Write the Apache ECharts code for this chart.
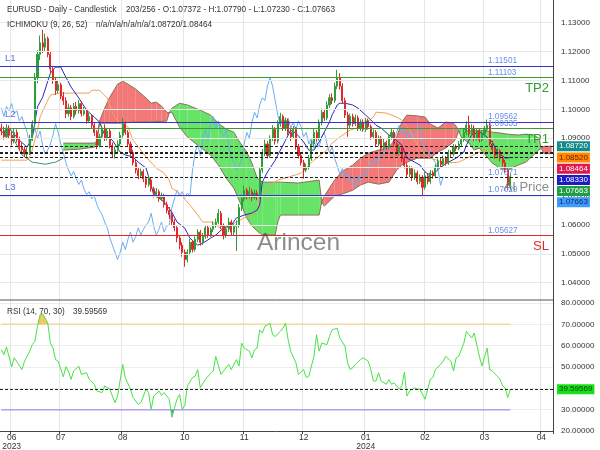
<!DOCTYPE html>
<html><head><meta charset="utf-8">
<script src="https://cdn.jsdelivr.net/npm/echarts@6/dist/echarts.min.js"></script>
<style>html,body{margin:0;padding:0;background:#fff}#c{width:600px;height:450px}</style>
</head><body><div id="c"></div>
<script>
// ---------- data ----------
const opens = [1.0935,1.0925,1.0905,1.0935,1.0910,1.0890,1.0920,1.0895,1.0870,1.0860,
1.0845,1.0850,1.0900,1.0950,1.1110,1.1190,1.1230,1.1215,1.1245,1.1190,
1.1140,1.1100,1.1065,1.1085,1.1045,1.1030,1.0985,1.1005,1.0975,1.1010,
1.0995,1.1020,1.0985,1.0995,1.0960,1.0975,1.0945,1.0920,1.0875,1.0905,
1.0935,1.0900,1.0925,1.0875,1.0845,1.0860,1.0880,1.0910,1.0950,1.0920,
1.0880,1.0850,1.0815,1.0790,1.0770,1.0785,1.0760,1.0740,1.0755,1.0725,
1.0705,1.0715,1.0690,1.0700,1.0670,1.0650,1.0635,1.0610,1.0590,1.0555,
1.0530,1.0505,1.0480,1.0505,1.0540,1.0515,1.0550,1.0575,1.0540,1.0560,
1.0590,1.0565,1.0585,1.0600,1.0610,1.0640,1.0595,1.0565,1.0585,1.0610,
1.0575,1.0595,1.0600,1.0660,1.0690,1.0720,1.0700,1.0715,1.0695,1.0710,
1.0700,1.0790,1.0850,1.0880,1.0840,1.0900,1.0930,1.0890,1.0950,1.0975,
1.0935,1.0960,1.0920,1.0905,1.0930,1.0870,1.0840,1.0815,1.0790,1.0800,
1.0830,1.0880,1.0920,1.0900,1.0955,1.0990,1.0970,1.1015,1.1040,1.1030,
1.1080,1.1110,1.1080,1.1030,1.0980,1.0945,1.0975,1.0950,1.0970,1.0935,
1.0955,1.0930,1.0960,1.0940,1.0905,1.0920,1.0880,1.0900,1.0865,1.0885,
1.0870,1.0905,1.0920,1.0880,1.0850,1.0870,1.0830,1.0805,1.0775,1.0795,
1.0765,1.0780,1.0750,1.0765,1.0730,1.0770,1.0750,1.0780,1.0770,1.0800,
1.0820,1.0810,1.0830,1.0815,1.0850,1.0845,1.0870,1.0865,1.0880,1.0895,
1.0920,1.0945,1.0915,1.0935,1.0900,1.0925,1.0895,1.0915,1.0930,1.0945,
1.0880,1.0860,1.0840,1.0855,1.0830,1.0815,1.0790,1.07372];
const closes = [1.0925,1.0905,1.0935,1.0910,1.0890,1.0920,1.0895,1.0870,1.0860,1.0845,
1.0850,1.0900,1.0950,1.1110,1.1190,1.1230,1.1215,1.1245,1.1190,1.1140,
1.1100,1.1065,1.1085,1.1045,1.1030,1.0985,1.1005,1.0975,1.1010,1.0995,
1.1020,1.0985,1.0995,1.0960,1.0975,1.0945,1.0920,1.0875,1.0905,1.0935,
1.0900,1.0925,1.0875,1.0845,1.0860,1.0880,1.0910,1.0950,1.0920,1.0880,
1.0850,1.0815,1.0790,1.0770,1.0785,1.0760,1.0740,1.0755,1.0725,1.0705,
1.0715,1.0690,1.0700,1.0670,1.0650,1.0635,1.0610,1.0590,1.0555,1.0530,
1.0505,1.0480,1.0505,1.0540,1.0515,1.0550,1.0575,1.0540,1.0560,1.0590,
1.0565,1.0585,1.0600,1.0610,1.0640,1.0595,1.0565,1.0585,1.0610,1.0575,
1.0595,1.0600,1.0660,1.0690,1.0720,1.0700,1.0715,1.0695,1.0710,1.0700,
1.0790,1.0850,1.0880,1.0840,1.0900,1.0930,1.0890,1.0950,1.0975,1.0935,
1.0960,1.0920,1.0905,1.0930,1.0870,1.0840,1.0815,1.0790,1.0800,1.0830,
1.0880,1.0920,1.0900,1.0955,1.0990,1.0970,1.1015,1.1040,1.1030,1.1080,
1.1110,1.1080,1.1030,1.0980,1.0945,1.0975,1.0950,1.0970,1.0935,1.0955,
1.0930,1.0960,1.0940,1.0905,1.0920,1.0880,1.0900,1.0865,1.0885,1.0870,
1.0905,1.0920,1.0880,1.0850,1.0870,1.0830,1.0805,1.0775,1.0795,1.0765,
1.0780,1.0750,1.0765,1.0730,1.0770,1.0750,1.0780,1.0770,1.0800,1.0820,
1.0810,1.0830,1.0815,1.0850,1.0845,1.0870,1.0865,1.0880,1.0895,1.0920,
1.0945,1.0915,1.0935,1.0900,1.0925,1.0895,1.0915,1.0930,1.0945,1.0880,
1.0860,1.0840,1.0855,1.0830,1.0815,1.0790,1.0737,1.07663];
const lows = [1.0910,1.0895,1.0898,1.0900,1.0875,1.0882,1.0885,1.0858,1.0848,1.0835,
1.0832,1.0842,1.0890,1.0940,1.1090,1.1170,1.1195,1.1200,1.1180,1.1125,
1.1088,1.1050,1.1055,1.1035,1.1015,1.0970,1.0975,1.0962,1.0968,1.0982,
1.0985,1.0975,1.0978,1.0950,1.0952,1.0935,1.0908,1.0862,1.0868,1.0898,
1.0890,1.0892,1.0865,1.0835,1.0830,1.0850,1.0872,1.0902,1.0912,1.0872,
1.0840,1.0805,1.0778,1.0758,1.0762,1.0748,1.0728,1.0732,1.0715,1.0695,
1.0695,1.0680,1.0682,1.0660,1.0640,1.0620,1.0600,1.0578,1.0540,1.0515,
1.0490,1.0455,1.0470,1.0495,1.0505,1.0508,1.0540,1.0528,1.0530,1.0552,
1.0555,1.0558,1.0575,1.0590,1.0602,1.0585,1.0550,1.0555,1.0575,1.0562,
1.0562,1.0510,1.0590,1.0648,1.0680,1.0688,1.0690,1.0682,1.0688,1.0685,
1.0692,1.0780,1.0838,1.0830,1.0832,1.0890,1.0878,1.0882,1.0940,1.0925,
1.0925,1.0910,1.0890,1.0898,1.0860,1.0830,1.0805,1.0760,1.0782,1.0792,
1.0822,1.0870,1.0888,1.0892,1.0945,1.0960,1.0962,1.1005,1.1018,1.1022,
1.1070,1.1068,1.1020,1.0970,1.0905,1.0935,1.0940,1.0942,1.0925,1.0925,
1.0922,1.0922,1.0930,1.0895,1.0898,1.0870,1.0872,1.0855,1.0858,1.0860,
1.0862,1.0895,1.0870,1.0840,1.0840,1.0818,1.0795,1.0762,1.0765,1.0752,
1.0755,1.0740,1.0742,1.0695,1.0722,1.0740,1.0742,1.0760,1.0762,1.0795,
1.0800,1.0802,1.0805,1.0808,1.0835,1.0838,1.0855,1.0858,1.0872,1.0888,
1.0910,1.0905,1.0908,1.0890,1.0892,1.0885,1.0888,1.0905,1.0922,1.0872,
1.0850,1.0828,1.0832,1.0820,1.0802,1.0780,1.0720,1.07230];
const highs = [1.0950,1.0940,1.0948,1.0945,1.0922,1.0935,1.0930,1.0905,1.0885,1.0872,
1.0868,1.0912,1.0962,1.1125,1.1205,1.1255,1.1275,1.1262,1.1252,1.1200,
1.1150,1.1112,1.1098,1.1092,1.1060,1.1042,1.1020,1.1015,1.1022,1.1025,
1.1032,1.1028,1.1008,1.1002,1.0988,1.0982,1.0955,1.0928,1.0915,1.0945,
1.0948,1.0935,1.0932,1.0885,1.0872,1.0892,1.0922,1.0970,1.0958,1.0928,
1.0888,1.0860,1.0825,1.0800,1.0795,1.0792,1.0770,1.0768,1.0762,1.0732,
1.0728,1.0722,1.0712,1.0708,1.0680,1.0662,1.0645,1.0620,1.0598,1.0565,
1.0540,1.0515,1.0515,1.0552,1.0548,1.0560,1.0585,1.0582,1.0572,1.0600,
1.0598,1.0592,1.0612,1.0622,1.0655,1.0648,1.0605,1.0595,1.0625,1.0618,
1.0605,1.0615,1.0672,1.0705,1.0735,1.0728,1.0732,1.0725,1.0722,1.0720,
1.0800,1.0862,1.0895,1.0890,1.0910,1.0945,1.0938,1.0962,1.0988,1.0982,
1.0972,1.0968,1.0932,1.0942,1.0938,1.0880,1.0852,1.0825,1.0812,1.0842,
1.0892,1.0932,1.0928,1.0965,1.1002,1.1000,1.1028,1.1052,1.1055,1.1092,
1.1137,1.1125,1.1090,1.1040,1.0992,1.0985,1.0985,1.0982,1.0978,1.0965,
1.0965,1.0970,1.0968,1.0948,1.0930,1.0928,1.0910,1.0908,1.0898,1.0892,
1.0915,1.0935,1.0928,1.0888,1.0880,1.0878,1.0840,1.0815,1.0805,1.0802,
1.0792,1.0788,1.0775,1.0772,1.0782,1.0778,1.0790,1.0788,1.0810,1.0830,
1.0832,1.0840,1.0838,1.0860,1.0858,1.0880,1.0878,1.0890,1.0905,1.0932,
1.0958,1.0978,1.0948,1.0945,1.0935,1.0932,1.0925,1.0942,1.0965,1.0952,
1.0892,1.0870,1.0865,1.0862,1.0840,1.0825,1.0800,1.07790];

// Ichimoku lines: [slot, value]
const tenkanSlots = [0,3,7,10,12,14,16,19,21,23,25,27,30,33,36,38,40,43,46,48,51,53,56,58,59,61,63,66,68,71,73,76,78,81,83,86,89,91,94,97,99,100,101,103,106,110,112,114,117,119,121,123,125,127,128,130,131,133,136,138,141,143,145,147,150,152,155,157,160,162,164,166,168,170,173,176,179,180,182,185,187,190,192,195,197];
const tenkanVals = [1.0918,1.0935,1.0893,1.0869,1.0904,1.1008,1.1042,1.1125,1.1146,1.1146,1.1111,1.1077,1.1039,1.0997,1.0973,1.0956,1.0911,1.0893,1.0852,1.0842,1.0835,1.0817,1.0797,1.0738,1.0703,1.0693,1.0679,1.0644,1.0610,1.0589,1.0554,1.0530,1.0537,1.0554,1.0565,1.0589,1.0599,1.0624,1.0634,1.0641,1.0651,1.0669,1.0748,1.0783,1.0824,1.0893,1.0928,1.0918,1.0887,1.0859,1.0859,1.0887,1.0921,1.0956,1.0980,1.1015,1.1021,1.1021,1.1015,1.1004,1.0980,1.0963,1.0945,1.0935,1.0911,1.0900,1.0876,1.0831,1.0817,1.0807,1.0783,1.0772,1.0783,1.0800,1.0817,1.0831,1.0852,1.0876,1.0911,1.0921,1.0911,1.0887,1.0852,1.0831,1.0833];
const kijunSlots = [0,10,11,12,14,15,18,19,22,34,35,38,41,43,44,46,49,51,54,56,60,63,65,66,69,73,76,78,82,83,86,89,91,94,97,99,100,102,104,107,111,116,121,126,128,131,135,139,144,145,149,153,155,158,161,164,166,172,177,181,185,189,193,197];
const kijunVals = [1.0824,1.0824,1.0835,1.0859,1.0928,1.0973,1.1032,1.1049,1.1056,1.1056,1.1066,1.1066,1.1039,1.0990,1.0970,1.0952,1.0939,1.0893,1.0859,1.0835,1.0797,1.0779,1.0755,1.0727,1.0710,1.0669,1.0634,1.0610,1.0610,1.0599,1.0582,1.0599,1.0610,1.0624,1.0634,1.0651,1.0693,1.0710,1.0738,1.0755,1.0765,1.0779,1.0824,1.0859,1.0883,1.0904,1.0928,1.0939,1.0973,1.0990,1.0987,1.0973,1.0963,1.0928,1.0876,1.0842,1.0831,1.0814,1.0817,1.0835,1.0852,1.0859,1.0852,1.0852];
const leadSlots = [5,8,12,17,21,24];
const leadVals = [1.0893,1.0842,1.0817,1.0810,1.0817,1.0831];
const cloudSlots = [24,30,36,37,38,40,42,45,47,49,52,56,58,60,62,64,65,66,69,72,77,81,84,87,90,92,95,97,99,101,106,107,108,115,123,124,125,129,132,136,139,142,146,150,153,155,157,161,164,166,169,172,175,176,177,178,181,183,185,188,190,193,196,200,203,206,208,209,210,213];
const spanA = [1.0883,1.0883,1.0883,1.0890,1.0952,1.0952,1.0952,1.0952,1.0952,1.0954,1.0956,1.0956,1.0956,1.0958,1.0958,1.0959,1.0988,1.1004,1.1021,1.1015,1.0997,1.0980,1.0952,1.0931,1.0921,1.0890,1.0852,1.0814,1.0762,1.0748,1.0748,1.0748,1.0748,1.0745,1.0755,1.0680,1.0665,1.0700,1.0707,1.0720,1.0738,1.0748,1.0741,1.0748,1.0790,1.0807,1.0817,1.0831,1.0831,1.0831,1.0852,1.0866,1.0887,1.0900,1.0925,1.0935,1.0925,1.0925,1.0928,1.0925,1.0921,1.0918,1.0914,1.0911,1.0914,1.0911,1.0900,1.0865,1.08464,1.08464];
const spanB = [1.0859,1.0862,1.0869,1.0890,1.0959,1.1004,1.1042,1.1087,1.1097,1.1087,1.1070,1.1039,1.1021,1.1025,1.1011,1.0990,1.0988,1.0990,1.0938,1.0904,1.0869,1.0842,1.0807,1.0762,1.0727,1.0686,1.0624,1.0596,1.0579,1.0565,1.0565,1.0610,1.0634,1.0634,1.0634,1.0680,1.0700,1.0755,1.0786,1.0807,1.0831,1.0848,1.0859,1.0869,1.0904,1.0956,1.0980,1.0977,1.0973,1.0949,1.0935,1.0956,1.0952,1.0942,1.0925,1.0904,1.0883,1.0859,1.0866,1.0835,1.0814,1.0797,1.0790,1.0807,1.0817,1.0842,1.0859,1.0865,1.0872,1.0872];
const chikouShift = 26;

// RSI
const rsiSlots = [0,1,2,4,5,8,9,11,12,13,14,15,16,17,18,19,20,21,22,24,25,26,27,28,30,31,33,34,36,37,39,40,42,43,44,45,47,48,50,51,53,54,56,57,58,59,61,62,63,65,66,68,69,70,71,72,74,75,76,77,79,80,82,83,85,86,88,89,91,92,93,94,96,97,98,99,100,101,102,104,105,106,108,109,110,111,112,114,115,117,118,119,121,122,123,124,126,127,128,130,131,133,134,135,136,137,139,140,142,143,144,145,146,147,149,150,151,152,154,155,156,157,158,160,161,162,164,165,166,167,168,170,171,172,174,175,176,177,179,180,181,182,183,185,186,188,189,190,192,193,194,195,196,197];
const rsiVals = [58.1,55.8,59.4,50.1,54.3,48.8,52.7,57.4,60.5,62.0,69.0,74.4,74.9,72.9,70.5,61.2,58.9,53.5,52.7,45.4,50.1,48.1,44.2,48.1,50.4,46.5,47.3,44.2,41.9,38.8,38.0,41.1,39.6,36.4,33.3,36.4,51.2,44.9,39.6,35.7,32.5,33.3,39.6,38.0,30.2,36.4,38.8,36.7,38.0,34.9,26.4,34.9,37.2,30.2,31.8,41.1,45.0,45.7,48.8,40.3,44.2,45.7,48.1,55.0,46.5,48.1,51.2,48.8,53.5,50.4,61.2,58.9,57.4,54.3,58.1,58.9,67.4,65.9,69.0,70.5,65.1,64.3,66.7,68.2,70.5,62.8,57.4,52.0,46.5,48.8,45.0,45.7,55.0,65.1,57.4,61.2,60.5,64.3,67.4,68.2,63.6,59.7,52.0,48.8,49.6,51.2,53.5,54.3,52.7,48.8,43.4,43.4,47.3,43.4,41.9,44.2,41.9,42.6,39.6,41.1,47.6,36.4,38.8,40.3,39.6,39.6,34.9,39.6,44.2,45.0,48.8,51.2,52.7,55.0,52.7,48.1,54.3,55.0,61.2,66.7,65.1,63.6,65.9,55.0,50.4,58.9,48.8,48.1,45.7,44.2,41.1,40.3,35.7,39.59569];
const rsiUpper = 70, rsiLower = 30, rsiLast = 39.59569;

// axes / levels
const slotCount = 214;
const monthSlots = [4, 23, 47, 71, 94, 117, 141, 164, 187, 209];
const monthLabels = ['06\n2023','07','08','10','11','12','01\n2024','02','03','04'];
const priceTicks = [1.04,1.05,1.06,1.07,1.08,1.09,1.10,1.11,1.12,1.13];
const levelValues = [1.11501, 1.11103, 1.09562, 1.09335, 1.07029, 1.05627];
const levelColors = ['#3434c6','#3a973a','#3434c6','#3a973a','#3434c6','#e02a2a'];
const levelTags = ['L1','TP2','L2','TP1','L3','SL'];
const levelTagSide = ['left','right','left','right','left','right'];
const dashValues = [1.08720, 1.08520, 1.08464, 1.08330, 1.07663];
const aiPrice = 1.07871, currentPrice = 1.07663;
const badgeValues = [1.08720, 1.08520, 1.08464, 1.08330, 1.07663, 1.07663];
const badgeColors = ['#138a8a','#ff8a00','#e0194d','#1c1cc4','#1f9e45','#3d9bff'];
const badgeText = ['#ffffff','#6a1a00','#ffffff','#ffffff','#ffffff','#0a2a5a'];

// ---------- chart ----------
const FONT = 'Liberation Sans, Arial, sans-serif';
const slotNames = Array.from({length: slotCount}, (_, i) => String(i));
const isMonth = (idx) => monthSlots.indexOf(idx) >= 0;
const pairs = (xs, ys) => xs.map((x, i) => [x, ys[i]]);
const candleData = opens.map((o, i) => [o, closes[i], lows[i], highs[i]]);
const lastSlot = closes.length - 1;

function bandSeries(slots, upper, lower, posColor, negColor, xi, yi, z) {
  return {
    type: 'custom', xAxisIndex: xi, yAxisIndex: yi, z: z, silent: true, clip: true,
    data: slots.map((s, i) => [s, upper[i], lower[i]]),
    encode: { x: 0, y: [1, 2] },
    renderItem: function (params, api) {
      const i = params.dataIndex;
      if (i >= slots.length - 1) return { type: 'group', children: [] };
      const s0 = slots[i], s1 = slots[i + 1];
      const pa0 = api.coord([s0, upper[i]]), pa1 = api.coord([s1, upper[i + 1]]);
      const pb0 = api.coord([s0, lower[i]]), pb1 = api.coord([s1, lower[i + 1]]);
      const d0 = upper[i] - lower[i], d1 = upper[i + 1] - lower[i + 1];
      const kids = [];
      const add = (pts, c) => { if (c) kids.push({ type: 'polygon', shape: { points: pts }, style: { fill: c } }); };
      if (d0 * d1 < 0) {
        const t = d0 / (d0 - d1);
        const m = [pa0[0] + t * (pa1[0] - pa0[0]), pa0[1] + t * (pa1[1] - pa0[1])];
        add([pa0, m, pb0], d0 > 0 ? posColor : negColor);
        add([m, pa1, pb1], d1 > 0 ? posColor : negColor);
      } else {
        add([pa0, pa1, pb1, pb0], (d0 + d1) >= 0 ? posColor : negColor);
      }
      return { type: 'group', children: kids };
    }
  };
}

const chart = echarts.init(document.getElementById('c'), null, { renderer: 'canvas' });
const option = {
  animation: false,
  backgroundColor: '#ffffff',
  textStyle: { fontFamily: FONT },
  grid: [
    { left: 0, top: -6.3, width: 553, height: 317.9, outerBoundsMode: 'none', containLabel: false },
    { left: 0, top: 303, width: 553, height: 128, outerBoundsMode: 'none', containLabel: false }
  ],
  xAxis: [
    { type: 'category', gridIndex: 0, data: slotNames, boundaryGap: true,
      axisLine: { show: false }, axisTick: { show: false }, axisLabel: { show: false },
      splitLine: { show: true, interval: isMonth, lineStyle: { color: '#e6e6e6', width: 1 } } },
    { type: 'category', gridIndex: 1, data: slotNames, boundaryGap: true,
      axisLine: { show: true, lineStyle: { color: '#444', width: 1 } },
      axisTick: { show: true, interval: isMonth, length: 3, lineStyle: { color: '#444' } },
      axisLabel: { interval: isMonth, margin: 2, fontSize: 8.5, lineHeight: 9, color: '#333', fontFamily: FONT,
        formatter: (v) => { const k = monthSlots.indexOf(Number(v)); return k >= 0 ? monthLabels[k] : ''; } },
      splitLine: { show: true, interval: isMonth, lineStyle: { color: '#e6e6e6', width: 1 } } }
  ],
  yAxis: [
    { type: 'value', gridIndex: 0, position: 'right', min: 1.03, max: 1.14, interval: 0.01, scale: true,
      axisLine: { show: true, lineStyle: { color: '#444', width: 1 } }, axisTick: { show: false },
      splitLine: { show: false },
      axisLabel: { showMinLabel: false, margin: 8, fontSize: 8, color: '#333', fontFamily: FONT, formatter: (v) => v.toFixed(5) } },
    { type: 'value', gridIndex: 1, position: 'right', min: 20, max: 80, interval: 10,
      axisLine: { show: true, lineStyle: { color: '#444', width: 1 } }, axisTick: { show: false },
      splitLine: { show: true, lineStyle: { color: '#ececec', width: 1 } },
      axisLabel: { margin: 8, fontSize: 8, color: '#333', fontFamily: FONT, formatter: (v) => v.toFixed(5) } }
  ],
  series: [
    { type: 'line', xAxisIndex: 0, yAxisIndex: 0, data: [], silent: true, z: 0, symbol: 'none',
      markLine: { silent: true, symbol: 'none', precision: 6, label: { show: false }, animation: false,
        lineStyle: { color: '#e8e8e8', width: 1, type: 'solid' },
        data: priceTicks.map(v => ({ yAxis: v })) } },
    bandSeries(cloudSlots, spanA, spanB, 'rgba(70,222,70,0.82)', 'rgba(240,90,90,0.82)', 0, 0, 1),
    { type: 'line', xAxisIndex: 0, yAxisIndex: 0, data: pairs(cloudSlots, spanA), symbol: 'none', silent: true, z: 2,
      lineStyle: { color: '#8c705c', width: 1 } },
    { type: 'line', xAxisIndex: 0, yAxisIndex: 0, data: pairs(cloudSlots, spanB), symbol: 'none', silent: true, z: 2,
      lineStyle: { color: '#8c705c', width: 1 } },
    { type: 'line', xAxisIndex: 0, yAxisIndex: 0, data: pairs(leadSlots, leadVals), symbol: 'none', silent: true, z: 2,
      lineStyle: { color: '#3a9078', width: 1 } },
    { type: 'line', xAxisIndex: 0, yAxisIndex: 0,
      data: closes.map((c, i) => [i - chikouShift, c]).slice(chikouShift),
      symbol: 'none', silent: true, z: 2, lineStyle: { color: '#6aaef2', width: 1 } },
    { type: 'line', xAxisIndex: 0, yAxisIndex: 0, data: pairs(kijunSlots, kijunVals), symbol: 'none', silent: true, z: 2,
      lineStyle: { color: '#f4a058', width: 1 } },
    { type: 'line', xAxisIndex: 0, yAxisIndex: 0, data: pairs(tenkanSlots, tenkanVals), symbol: 'none', silent: true, z: 2,
      lineStyle: { color: '#2b2bbd', width: 1 } },
    { type: 'candlestick', xAxisIndex: 0, yAxisIndex: 0, data: candleData, barWidth: 1.6, silent: true, z: 3,
      itemStyle: { color: '#2f9e3a', color0: '#e02828', borderColor: '#2f9e3a', borderColor0: '#e02828', borderWidth: 1 } },
    { type: 'line', xAxisIndex: 0, yAxisIndex: 0, data: [], silent: true, z: 4, symbol: 'none',
      markLine: { silent: true, symbol: 'none', precision: 6, label: { show: false }, animation: false,
        data: levelValues.map((v, i) => ({ yAxis: v, lineStyle: { color: levelColors[i], width: 1.2, type: 'solid' } })) } },
    { type: 'line', xAxisIndex: 0, yAxisIndex: 0, data: [], silent: true, z: 4, symbol: 'none',
      markLine: { silent: true, symbol: 'none', precision: 6, label: { show: false }, animation: false,
        lineStyle: { color: '#222', width: 1, type: [3, 2] },
        data: dashValues.map(v => ({ yAxis: v })) } },
    // RSI panel
    { type: 'line', xAxisIndex: 1, yAxisIndex: 1, data: [[0, rsiUpper], [lastSlot, rsiUpper]], symbol: 'none', silent: true, z: 2,
      lineStyle: { color: '#f6d7a2', width: 1.5 } },
    { type: 'line', xAxisIndex: 1, yAxisIndex: 1, data: [[0, rsiLower], [lastSlot, rsiLower]], symbol: 'none', silent: true, z: 2,
      lineStyle: { color: '#b79cf0', width: 1.5 } },
    bandSeries(rsiSlots, rsiVals, rsiVals.map(() => rsiUpper), '#f5c15a', null, 1, 1, 3),
    bandSeries(rsiSlots, rsiVals.map(() => rsiLower), rsiVals, '#7b7bd8', null, 1, 1, 3),
    { type: 'line', xAxisIndex: 1, yAxisIndex: 1, data: pairs(rsiSlots, rsiVals), symbol: 'none', silent: true, z: 4,
      lineStyle: { color: '#45e345', width: 1 },
      markLine: { silent: true, symbol: 'none', precision: 6, label: { show: false }, animation: false,
        lineStyle: { color: '#222', width: 1, type: [3, 2] }, data: [{ yAxis: rsiLast }] } }
  ]
};
chart.setOption(option);

// ---------- text overlays ----------
const py = (v) => chart.convertToPixel({ yAxisIndex: 0 }, v);
const ry = (v) => chart.convertToPixel({ yAxisIndex: 1 }, v);
const T = (x, y, text, fill, size, align, va, extra) => Object.assign({
  type: 'text', x: x, y: y, z: 100, silent: true,
  style: Object.assign({ text: text, fill: fill, font: size + 'px ' + FONT, align: align || 'left', verticalAlign: va || 'middle' }, extra || {})
});
const g = [];
g.push({ type: 'line', z: 99, silent: true, shape: { x1: 0, y1: 300, x2: 553, y2: 300 }, style: { stroke: '#555', lineWidth: 1 } });
g.push(T(7, 10, 'EURUSD - Daily - Candlestick', '#333', 8.2));
g.push(T(126, 10, '203/256 - O:1.07372 - H:1.07790 - L:1.07230 - C:1.07663', '#333', 8.2));
g.push(T(7, 25, 'ICHIMOKU (9, 26, 52)', '#333', 8.2));
g.push(T(96, 25, 'n/a/n/a/n/a/n/a/1.08720/1.08464', '#333', 8.2));
g.push(T(7, 312, 'RSI (14, 70, 30)', '#333', 8.2));
g.push(T(73, 312, rsiLast.toFixed(5), '#333', 8.2));
// watermark
g.push(T(257, 231, 'Arincen', 'rgba(70,70,70,0.62)', 24.5, 'left', 'alphabetic'));
// level labels
levelValues.forEach((v, i) => {
  const y = py(v);
  g.push(T(488, y - 5, v.toFixed(5), '#6a8cf0', 8.2));
  if (levelTagSide[i] === 'left') g.push(T(5, y - 8, levelTags[i], '#5572e0', 9.5));
  else g.push(T(549, y + 11, levelTags[i], levelColors[i] === '#e02a2a' ? '#e02a2a' : '#2f9e2f', 13, 'right'));
});
g.push(T(488, py(aiPrice) + 1.5, aiPrice.toFixed(5), '#6a8cf0', 8.2));
g.push(T(549, py(currentPrice) + 11, 'AI Price', 'rgba(120,120,120,0.85)', 13, 'right'));
// badges on the price axis (stacked)
let prev = -1e9;
badgeValues.forEach((v, i) => {
  let y = Math.max(py(v), prev + 11.2);
  prev = y;
  g.push(T(557, y, v.toFixed(5), badgeText[i], 8, 'left', 'middle',
    { backgroundColor: badgeColors[i], padding: [1, 2, 1, 2] }));
});
g.push(T(557, ry(rsiLast), rsiLast.toFixed(5), '#0b3a0b', 8, 'left', 'middle',
  { backgroundColor: '#16e016', padding: [1, 2, 1, 2] }));
chart.setOption({ graphic: g });
</script>
</body></html>
